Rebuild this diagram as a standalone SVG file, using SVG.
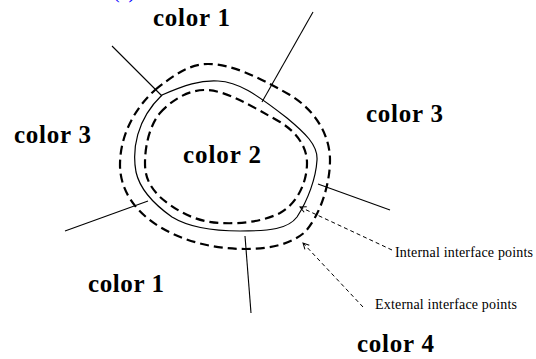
<svg xmlns="http://www.w3.org/2000/svg" width="536" height="359" viewBox="0 0 536 359">
<style>
.lbl{font-family:"Liberation Serif","Times New Roman",serif;font-weight:bold;font-size:25px;fill:#000}
.ann{font-family:"Liberation Serif","Times New Roman",serif;font-size:14px;fill:#000}
.solid{fill:none;stroke:#000;stroke-width:1.2}
.dash{fill:none;stroke:#000;stroke-width:2.2;stroke-dasharray:9 5}
.ray{fill:none;stroke:#000;stroke-width:1.1}
.darrow{fill:none;stroke:#000;stroke-width:1;stroke-dasharray:4 3}
</style>
<defs>
<marker id="ah" markerWidth="8" markerHeight="8" refX="7" refY="4" orient="auto" markerUnits="userSpaceOnUse">
<path d="M1,1 L7,4 L1,7" fill="none" stroke="#000" stroke-width="1"/>
</marker>
</defs>
<rect width="536" height="359" fill="#fff"/>
<text x="113" y="-2.5" font-family="Liberation Serif, serif" font-size="20" fill="#0000ff">(a)</text>
<g id="region-boundary">
<path class="solid" d="M162,95 C185,85 200,80 218,81 C238,82 255,93 287,118 C305,133 318,145 317,160 C316,178 308,200 297,217 C288,229 270,231 240,231 C215,231 190,228 172,217 C155,205 140,190 136,172 C132,150 136,120 162,95 Z"/>
</g>
<g id="external-points">
<path class="dash" d="M155,90 C175,74 190,64 208,64 C230,64 255,75 290,95 C315,110 330,135 330,160 C330,185 320,215 305,232 C290,245 268,249 245,249 C215,249 185,242 160,227 C135,212 120,190 120,165 C120,135 135,108 155,90 Z"/>
</g>
<g id="internal-points">
<path class="dash" d="M160,113 C172,100 188,90 205,90 C225,90 250,105 280,122 C298,133 307,148 307,163 C307,185 295,205 280,213 C262,222 240,224 220,223 C195,222 175,210 160,197 C148,185 145,175 145,163 C145,145 150,125 160,113 Z"/>
</g>
<g id="connectors">
<line class="ray" x1="112" y1="46" x2="162" y2="96"/>
<line class="ray" x1="313" y1="12" x2="262" y2="102"/>
<line class="ray" x1="318" y1="184" x2="390" y2="210"/>
<line class="ray" x1="245" y1="236" x2="251" y2="313"/>
<line class="ray" x1="65" y1="231" x2="148" y2="201"/>
<line class="darrow" x1="392" y1="250" x2="300" y2="207" marker-end="url(#ah)"/>
<line class="darrow" x1="363" y1="307" x2="303" y2="243" marker-end="url(#ah)"/>
</g>
<g id="labels">
<text class="lbl" x="153" y="26" textLength="77">color 1</text>
<text class="lbl" x="14" y="143" textLength="77">color 3</text>
<text class="lbl" x="183" y="163" textLength="78">color 2</text>
<text class="lbl" x="366" y="122" textLength="77">color 3</text>
<text class="lbl" x="88" y="292" textLength="76">color 1</text>
<text class="lbl" x="357" y="352" textLength="77">color 4</text>
<text class="ann" x="395" y="257" textLength="138">Internal interface points</text>
<text class="ann" x="375" y="309" textLength="142">External interface points</text>
</g>
</svg>
